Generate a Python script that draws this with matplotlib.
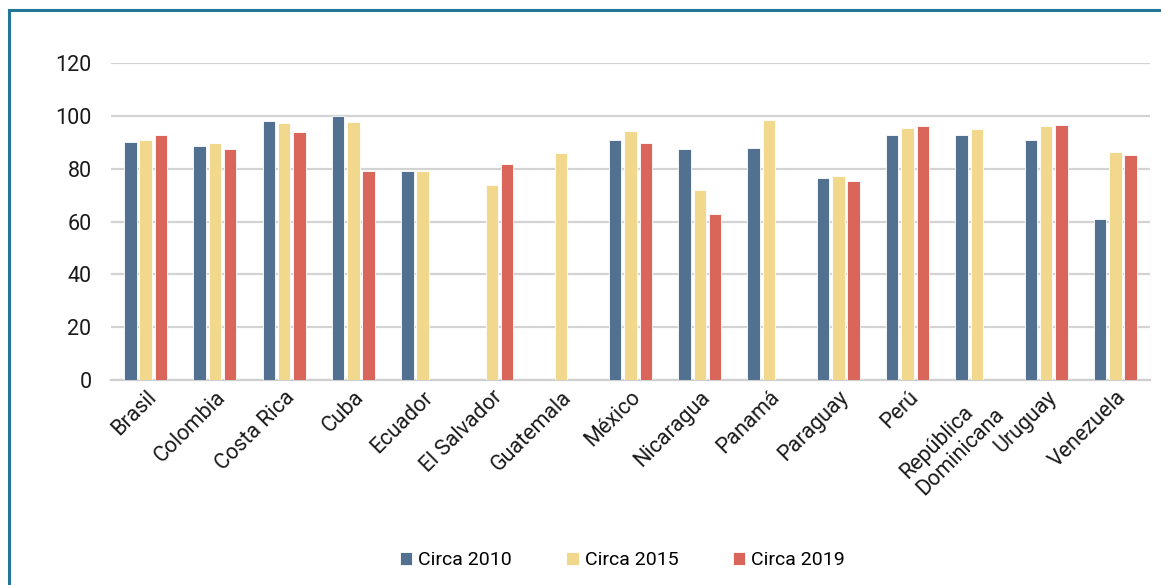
import matplotlib
matplotlib.use("Agg")
import matplotlib.pyplot as plt
import numpy as np
from matplotlib.lines import Line2D

plt.rcParams['font.family'] = ['Roboto', 'DejaVu Sans']

paises = ["Brasil", "Colombia", "Costa Rica", "Cuba", "Ecuador", "El Salvador",
          "Guatemala", "México", "Nicaragua", "Panamá", "Paraguay", "Perú",
          "República\nDominicana", "Uruguay", "Venezuela"]

# None = sin dato para ese año
circa_2010 = [90.0, 88.5, 97.9, 100.0, 79.3, None, None, 90.9, 87.6, 87.7,
              76.6, 92.7, 92.7, 91.0, 60.9]
circa_2015 = [90.7, 89.7, 97.4, 97.7, 79.3, 73.7, 86.1, 94.1, 71.8, 98.3,
              77.1, 95.4, 95.1, 96.0, 86.5]
circa_2019 = [92.6, 87.6, 94.0, 79.1, None, 81.9, None, 89.9, 62.9, None,
              75.2, 96.3, None, 96.4, 85.1]

series = [("Circa 2010", circa_2010, "#52708f"),
          ("Circa 2015", circa_2015, "#f2d88d"),
          ("Circa 2019", circa_2019, "#da655a")]

fig = plt.figure(figsize=(11.61, 5.85), dpi=100)
ax = fig.add_axes([0.0956, 0.3504, 0.8949, 0.5419])

x = np.arange(len(paises))
step = 0.221
width = 0.18
for i, (nombre, vals, color) in enumerate(series):
    v = np.array([np.nan if a is None else a for a in vals], dtype=float)
    ax.bar(x + (i - 1) * step, v, width=width, color=color,
           edgecolor="white", linewidth=0.6, label=nombre, zorder=3)

ax.set_xlim(-0.5, len(paises) - 0.5)
ax.set_ylim(0, 120)
ax.set_yticks(np.arange(0, 121, 20))
ax.yaxis.grid(True, color="#d3d3d3", linewidth=1.6, zorder=0)
ax.set_axisbelow(True)
for s in ["top", "right", "left"]:
    ax.spines[s].set_visible(False)
ax.spines["bottom"].set_color("#cfcfcf")
ax.spines["bottom"].set_linewidth(1.6)
ax.tick_params(axis="both", length=0, labelsize=15.5, colors="#1a1a1a")
ax.tick_params(axis="y", pad=14)

ax.set_xticks(x)
ax.set_xticklabels(paises, rotation=45, ha="right", va="top",
                   rotation_mode="anchor", multialignment="left")
ax.tick_params(axis="x", pad=5)

fig.legend(loc="center", bbox_to_anchor=(0.536, 0.043), ncol=3,
           frameon=False, fontsize=14, handlelength=0.65, handleheight=0.65,
           handletextpad=0.3, columnspacing=2.8)

# marco azul a la izquierda y arriba
fig.add_artist(Line2D([9 / 1161, 9 / 1161], [0, 1 - 10 / 585],
                      color="#23759a", linewidth=2.2, transform=fig.transFigure))
fig.add_artist(Line2D([9 / 1161, 1], [1 - 10 / 585, 1 - 10 / 585],
                      color="#23759a", linewidth=2.2, transform=fig.transFigure))

fig.savefig("out.png", dpi=100, facecolor="white")
